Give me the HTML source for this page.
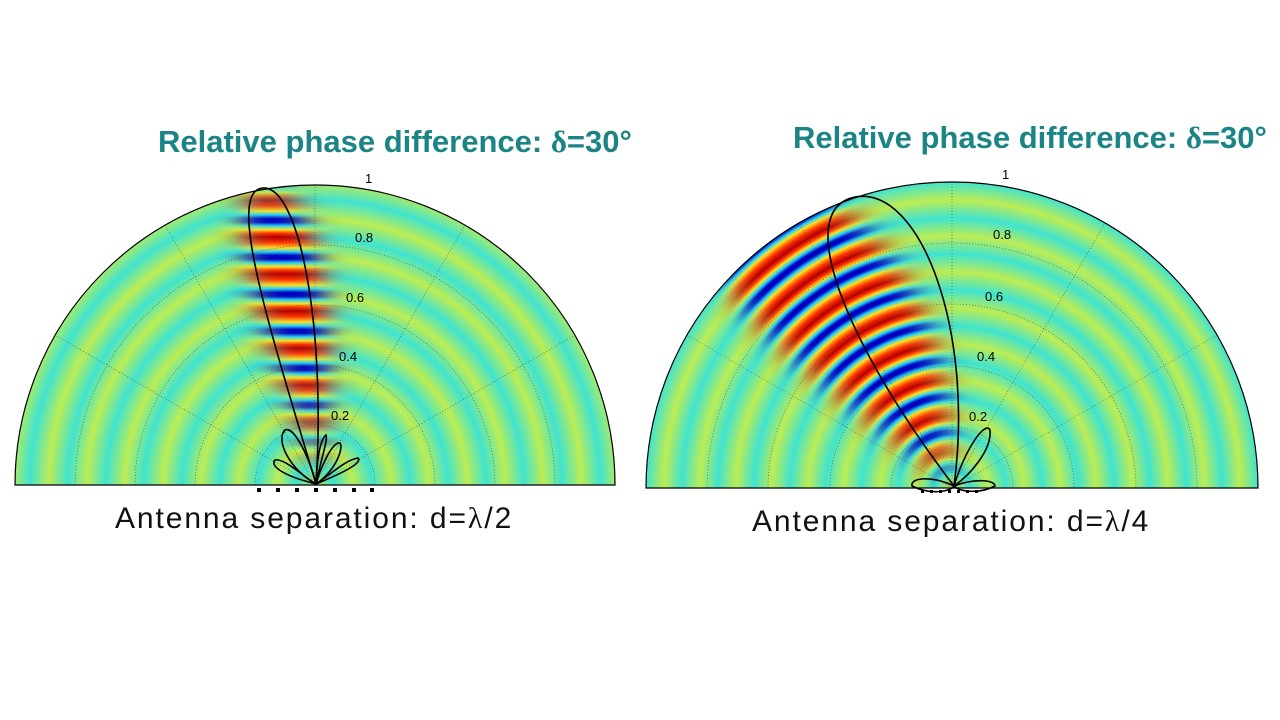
<!DOCTYPE html>
<html><head><meta charset="utf-8"><style>
body{margin:0;width:1280px;height:720px;background:#fff;overflow:hidden;position:relative;font-family:"Liberation Sans",sans-serif}
.t{position:absolute;color:#1b8484;font-weight:bold;font-size:31px;white-space:nowrap}
.c{position:absolute;color:#111;font-size:30px;letter-spacing:1.9px;white-space:nowrap}
</style></head><body>
<div class="t" style="left:158px;top:124px">Relative phase difference: <span style="font-family:'Liberation Serif',serif">δ</span>=30°</div>
<div class="t" style="left:793px;top:120px">Relative phase difference: <span style="font-family:'Liberation Serif',serif">δ</span>=30°</div>
<div class="c" style="left:115px;top:502px">Antenna separation: d=<span style="font-family:'Liberation Serif',serif">λ</span>/2</div>
<div class="c" style="left:752px;top:505px">Antenna separation: d=<span style="font-family:'Liberation Serif',serif">λ</span>/4</div>
<svg width="1280" height="720" style="position:absolute;left:0;top:0">
<defs>
<radialGradient id="bgL" gradientUnits="userSpaceOnUse" cx="315" cy="485" r="38" spreadMethod="repeat">
<stop offset="0" stop-color="#f0f020"/><stop offset="0.5" stop-color="#20e0f0"/><stop offset="1" stop-color="#f0f020"/></radialGradient>
<radialGradient id="bgR" gradientUnits="userSpaceOnUse" cx="952" cy="488" r="36" spreadMethod="repeat">
<stop offset="0" stop-color="#f0f020"/><stop offset="0.5" stop-color="#20e0f0"/><stop offset="1" stop-color="#f0f020"/></radialGradient>
<linearGradient id="bmL" gradientUnits="userSpaceOnUse" x1="0" y1="200" x2="0" y2="237" spreadMethod="repeat">
<stop offset="0" stop-color="#b00000"/><stop offset="0.15" stop-color="#ff3000"/><stop offset="0.3" stop-color="#ffe020"/><stop offset="0.4" stop-color="#20d0ff"/><stop offset="0.5" stop-color="#0000c0"/><stop offset="0.6" stop-color="#0000c0"/><stop offset="0.7" stop-color="#20d0ff"/><stop offset="0.8" stop-color="#ffe020"/><stop offset="0.9" stop-color="#ff3000"/><stop offset="1" stop-color="#b00000"/></linearGradient>
<radialGradient id="bmR" gradientUnits="userSpaceOnUse" cx="952" cy="488" r="36" spreadMethod="repeat">
<stop offset="0" stop-color="#b00000"/><stop offset="0.15" stop-color="#ff3000"/><stop offset="0.3" stop-color="#ffe020"/><stop offset="0.4" stop-color="#20d0ff"/><stop offset="0.5" stop-color="#0000c0"/><stop offset="0.6" stop-color="#0000c0"/><stop offset="0.7" stop-color="#20d0ff"/><stop offset="0.8" stop-color="#ffe020"/><stop offset="0.9" stop-color="#ff3000"/><stop offset="1" stop-color="#b00000"/></radialGradient>
<clipPath id="cL"><path d="M15,485 A300,300 0 0 1 615,485 Z"/></clipPath>
<clipPath id="cR"><path d="M646,488 A306,306 0 0 1 1258,488 Z"/></clipPath>
<filter id="bl" x="-50%" y="-50%" width="200%" height="200%"><feGaussianBlur stdDeviation="14"/></filter>
<mask id="mL"><path d="M318,470 C260,330 215,200 260,185 C320,175 345,330 318,470 Z" fill="#fff" filter="url(#bl)"/></mask>
<mask id="mR"><path d="M948,478 C770,350 660,250 720,190 C800,140 965,260 948,478 Z" fill="#fff" filter="url(#bl)"/></mask>
</defs>
<g clip-path="url(#cL)">
<rect x="0" y="150" width="640" height="340" fill="#70e8a0"/>
<rect x="0" y="150" width="640" height="340" fill="url(#bgL)" opacity="0.6"/>
<rect x="0" y="150" width="640" height="340" fill="url(#bmL)" mask="url(#mL)"/>
</g>
<g clip-path="url(#cR)">
<rect x="640" y="150" width="640" height="345" fill="#70e8a0"/>
<rect x="640" y="150" width="640" height="345" fill="url(#bgR)" opacity="0.6"/>
<rect x="640" y="150" width="640" height="345" fill="url(#bmR)" mask="url(#mR)"/>
</g>
<g fill="none" stroke="#333" stroke-width="0.7" stroke-dasharray="1,2" opacity="0.7">
<path d="M75,485 A240,240 0 0 1 555,485 M135,485 A180,180 0 0 1 495,485 M195,485 A120,120 0 0 1 435,485 M255,485 A60,60 0 0 1 375,485"/>
<path d="M315,485 L55,335 M315,485 L165,225 M315,485 L315,185 M315,485 L465,225 M315,485 L575,335"/>
<path d="M707,488 A245,245 0 0 1 1197,488 M768,488 A184,184 0 0 1 1136,488 M830,488 A122,122 0 0 1 1074,488 M891,488 A61,61 0 0 1 1013,488"/>
<path d="M952,488 L687,335 M952,488 L799,223 M952,488 L952,182 M952,488 L1105,223 M952,488 L1217,335"/>
</g>
<path d="M15,485 A300,300 0 0 1 615,485 Z" fill="none" stroke="#000" stroke-width="1.2"/>
<path d="M646,488 A306,306 0 0 1 1258,488 Z" fill="none" stroke="#000" stroke-width="1.2"/>
<g fill="none" stroke="#000" stroke-width="1.6">
<path d="M316,484 C270,330 225,190 263,188 C300,186 326,330 316,484 Z"/>
<path d="M316,484 C290,470 275,440 285,430 C295,425 312,465 316,484 Z"/>
<path d="M316,484 C340,468 345,440 338,443 C330,446 320,470 316,484 Z"/>
<path d="M316,484 C322,455 328,440 326,435 C320,440 317,460 316,484 Z"/>
<path d="M316,484 C280,475 270,465 275,460 C285,458 305,478 316,484 Z"/>
<path d="M316,484 C350,470 362,462 358,458 C345,460 330,475 316,484 Z"/>
<path d="M954,486 C850,350 790,210 855,197 C920,185 975,330 954,486 Z"/>
<path d="M954,486 C965,450 985,420 990,430 C992,450 970,475 954,486 Z"/>
<path d="M954,486 C930,475 910,478 912,486 C930,495 950,492 954,486 Z"/>
<path d="M954,486 C975,478 995,480 995,486 C980,494 960,492 954,486 Z"/>
</g>
<g font-family="Liberation Sans,sans-serif" font-size="13" fill="#000">
<text x="365" y="183">1</text><text x="355" y="242">0.8</text><text x="346" y="302">0.6</text><text x="339" y="361">0.4</text><text x="331" y="420">0.2</text>
<text x="1002" y="179">1</text><text x="993" y="239">0.8</text><text x="985" y="301">0.6</text><text x="977" y="361">0.4</text><text x="969" y="421">0.2</text>
</g>
<g fill="#000">
<rect x="257" y="488" width="4" height="4"/><rect x="276" y="488" width="4" height="4"/><rect x="295" y="488" width="4" height="4"/><rect x="314" y="488" width="4" height="4"/><rect x="333" y="488" width="4" height="4"/><rect x="352" y="488" width="4" height="4"/><rect x="370" y="488" width="4" height="4"/>
<rect x="921" y="490" width="3" height="3"/><rect x="930" y="490" width="3" height="3"/><rect x="939" y="490" width="3" height="3"/><rect x="948" y="490" width="3" height="3"/><rect x="957" y="490" width="3" height="3"/><rect x="966" y="490" width="3" height="3"/><rect x="975" y="490" width="3" height="3"/>
</g>
</svg>
</body></html>
